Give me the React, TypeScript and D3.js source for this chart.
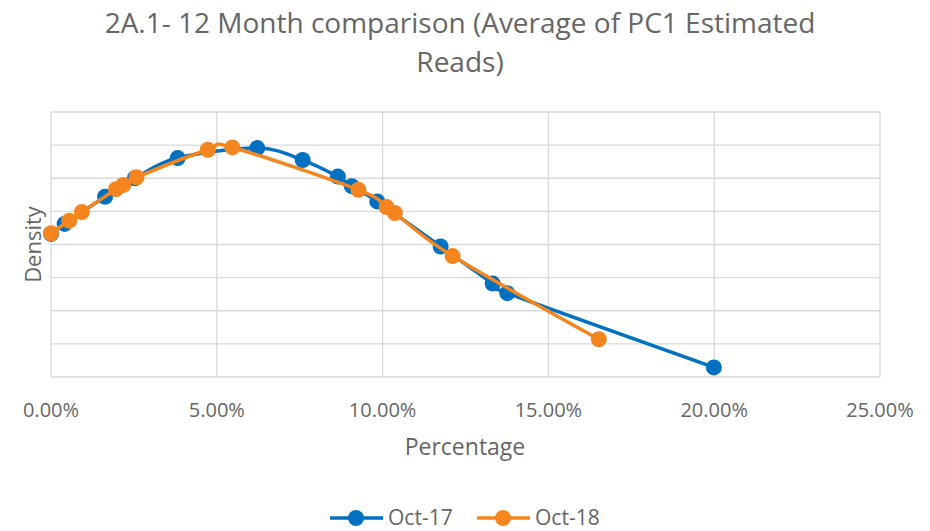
import React, { useEffect, useRef } from 'react';
import * as d3 from 'd3';

// percentage (as fraction) and density (grid units, no labels shown on y axis)
const oct17X = [0, 0.0041, 0.0163, 0.0253, 0.0382, 0.0622, 0.0759, 0.0865, 0.0907, 0.0984, 0.1175, 0.1332, 0.1376, 0.1999];
const oct17Y = [4.32, 4.62, 5.44, 6.0, 6.61, 6.91, 6.55, 6.05, 5.76, 5.3, 3.94, 2.82, 2.53, 0.29];
const oct18X = [0, 0.0055, 0.0093, 0.0196, 0.0218, 0.0258, 0.0473, 0.0547, 0.0927, 0.1012, 0.1037, 0.1211, 0.1652];
const oct18Y = [4.34, 4.72, 4.98, 5.67, 5.8, 6.03, 6.86, 6.93, 5.65, 5.13, 4.95, 3.65, 1.14];
const xTicks = [0, 0.05, 0.1, 0.15, 0.2, 0.25];
const yTicks = [0, 1, 2, 3, 4, 5, 6, 7, 8];

const seriesNames = ['Oct-17', 'Oct-18'];
const colors = ['#0070C0', '#F5861F'];

const W = 930;
const H = 531;
const FONT = '"Open Sans", sans-serif';
const TEXT = '#666666';

const App: React.FC = () => {
  const svgRef = useRef<SVGSVGElement>(null);

  useEffect(() => {
    document.body.style.margin = '0';
    if (!svgRef.current) return;
    const svg = d3.select(svgRef.current);
    svg.selectAll('*').remove();

    const x = d3.scaleLinear().domain([0, 0.25]).range([51, 880]);
    const y = d3.scaleLinear().domain([0, 8]).range([377, 112]);

    // title
    const title = svg.append('text')
      .attr('text-anchor', 'middle')
      .style('font-family', FONT)
      .style('font-size', '28px')
      .style('fill', TEXT);
    title.append('tspan').attr('x', 460).attr('y', 33).text('2A.1- 12 Month comparison (Average of PC1 Estimated');
    title.append('tspan').attr('x', 460).attr('y', 72).text('Reads)');

    // gridlines
    const grid = svg.append('g');
    grid.selectAll('.hg')
      .data(yTicks)
      .enter().append('line')
      .attr('x1', x(0)).attr('x2', x(0.25))
      .attr('y1', d => y(d)).attr('y2', d => y(d))
      .attr('stroke', '#d9d9d9')
      .attr('stroke-width', 1.3);
    grid.selectAll('.vg')
      .data(xTicks)
      .enter().append('line')
      .attr('x1', d => x(d)).attr('x2', d => x(d))
      .attr('y1', y(0)).attr('y2', y(8))
      .attr('stroke', '#d9d9d9')
      .attr('stroke-width', 1.3);

    // x tick labels
    svg.append('g').selectAll('text')
      .data(xTicks)
      .enter().append('text')
      .attr('x', d => x(d))
      .attr('y', 417)
      .attr('text-anchor', 'middle')
      .style('font-family', FONT)
      .style('font-size', '20px')
      .style('fill', TEXT)
      .text(d => d3.format('.2%')(d));

    // axis titles
    svg.append('text')
      .attr('x', 465)
      .attr('y', 455)
      .attr('text-anchor', 'middle')
      .style('font-family', FONT)
      .style('font-size', '23px')
      .style('fill', TEXT)
      .text('Percentage');

    svg.append('text')
      .attr('transform', `translate(41, ${(y(0) + y(8)) / 2}) rotate(-90)`)
      .attr('text-anchor', 'middle')
      .style('font-family', FONT)
      .style('font-size', '22px')
      .style('fill', TEXT)
      .text('Density');

    const line = d3.line<[number, number]>()
      .x(d => x(d[0]))
      .y(d => y(d[1]))
      .curve(d3.curveCardinal.tension(0));

    const series = [
      d3.zip(oct17X, oct17Y) as [number, number][],
      d3.zip(oct18X, oct18Y) as [number, number][],
    ];

    series.forEach((pts, i) => {
      const g = svg.append('g');
      g.append('path')
        .datum(pts)
        .attr('fill', 'none')
        .attr('stroke', colors[i])
        .attr('stroke-width', 3.5)
        .attr('stroke-linejoin', 'round')
        .attr('d', line);
      g.selectAll('circle')
        .data(pts)
        .enter().append('circle')
        .attr('cx', d => x(d[0]))
        .attr('cy', d => y(d[1]))
        .attr('r', 8)
        .attr('fill', colors[i]);
    });

    // legend
    const legendX = [330, 477];
    const legend = svg.append('g');
    seriesNames.forEach((name, i) => {
      const lx = legendX[i];
      legend.append('line')
        .attr('x1', lx).attr('x2', lx + 53)
        .attr('y1', 518).attr('y2', 518)
        .attr('stroke', colors[i])
        .attr('stroke-width', 3.5);
      legend.append('circle')
        .attr('cx', lx + 26).attr('cy', 518).attr('r', 8)
        .attr('fill', colors[i]);
      legend.append('text')
        .attr('x', lx + 58)
        .attr('y', 525)
        .style('font-family', FONT)
        .style('font-size', '21px')
        .style('fill', TEXT)
        .text(name);
    });
  }, []);

  return <svg ref={svgRef} width={W} height={H} style={{ display: 'block', background: '#fff' }} />;
};

export default App;
